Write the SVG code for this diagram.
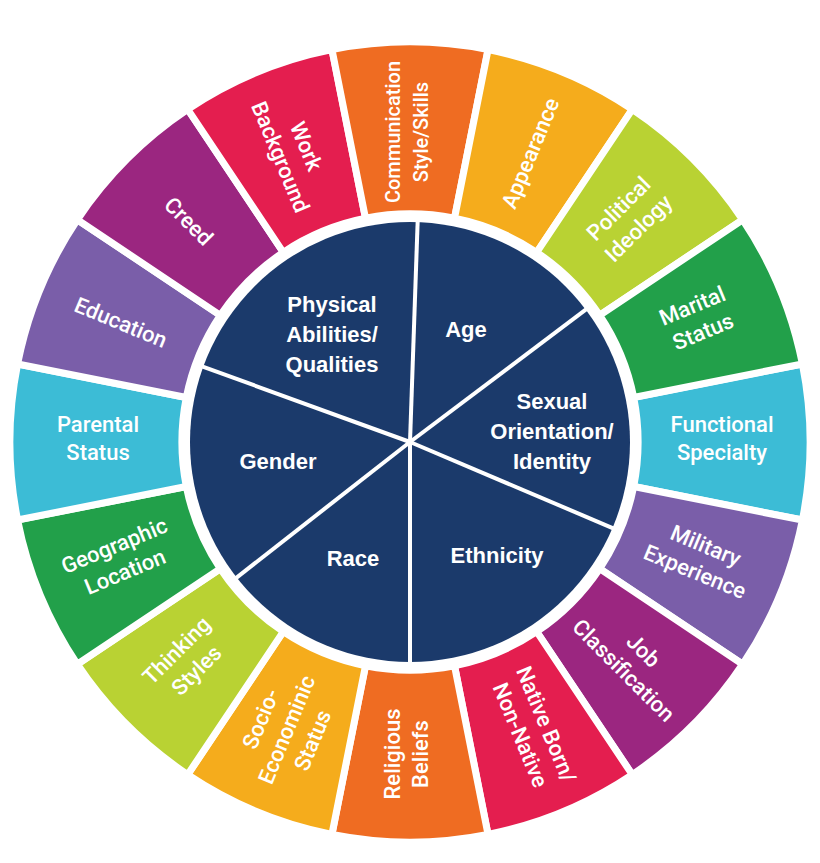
<svg xmlns="http://www.w3.org/2000/svg" xmlns:xlink="http://www.w3.org/1999/xlink" width="820" height="863" viewBox="0 0 820 863">
<style>
.seg{stroke:#fff;stroke-width:7;stroke-linejoin:miter}
.ot{font-family:Roboto,"Liberation Sans",sans-serif;font-size:22px;font-weight:500;fill:#fff;text-anchor:middle}
.it{font-family:"Liberation Sans",Arial,sans-serif;font-size:22px;font-weight:bold;fill:#fff;text-anchor:middle}
.div{stroke:#fff;stroke-width:4}
</style>
<defs>
<path id="s" d="M633.7,397.5 L802.4,364 A400,400 0 0 1 802.4,520 L633.7,486.5 A228,228 0 0 0 633.7,397.5 Z"/>
</defs>
<rect width="820" height="863" fill="#fff"/>
<g id="ring">
<use xlink:href="#s" class="seg" fill="#3cbcd6" transform="rotate(0 410 442)"/>
<use xlink:href="#s" class="seg" fill="#7a5ea9" transform="rotate(22.5 410 442)"/>
<use xlink:href="#s" class="seg" fill="#9b2680" transform="rotate(45 410 442)"/>
<use xlink:href="#s" class="seg" fill="#e41e4f" transform="rotate(67.5 410 442)"/>
<use xlink:href="#s" class="seg" fill="#ef6c22" transform="rotate(90 410 442)"/>
<use xlink:href="#s" class="seg" fill="#f5ac1c" transform="rotate(112.5 410 442)"/>
<use xlink:href="#s" class="seg" fill="#b9d233" transform="rotate(135 410 442)"/>
<use xlink:href="#s" class="seg" fill="#22a04a" transform="rotate(157.5 410 442)"/>
<use xlink:href="#s" class="seg" fill="#3cbcd6" transform="rotate(180 410 442)"/>
<use xlink:href="#s" class="seg" fill="#7a5ea9" transform="rotate(202.5 410 442)"/>
<use xlink:href="#s" class="seg" fill="#9b2680" transform="rotate(225 410 442)"/>
<use xlink:href="#s" class="seg" fill="#e41e4f" transform="rotate(247.5 410 442)"/>
<use xlink:href="#s" class="seg" fill="#ef6c22" transform="rotate(270 410 442)"/>
<use xlink:href="#s" class="seg" fill="#f5ac1c" transform="rotate(292.5 410 442)"/>
<use xlink:href="#s" class="seg" fill="#b9d233" transform="rotate(315 410 442)"/>
<use xlink:href="#s" class="seg" fill="#22a04a" transform="rotate(337.5 410 442)"/>
</g>
<g id="ring-labels" class="ot">
<text transform="translate(722,442) rotate(0)"><tspan x="0" y="-10">Functional</tspan><tspan x="0" y="18">Specialty</tspan></text>
<text transform="translate(699,562) rotate(22.5)"><tspan x="0" y="-10">Military</tspan><tspan x="0" y="18">Experience</tspan></text>
<text transform="translate(631,663) rotate(45)"><tspan x="0" y="-10">Job</tspan><tspan x="0" y="18">Classification</tspan></text>
<text transform="translate(530,731) rotate(67.5)"><tspan x="0" y="-10">Native Born/</tspan><tspan x="0" y="18">Non-Native</tspan></text>
<text transform="translate(410,754) rotate(-90)"><tspan x="0" y="-10">Religious</tspan><tspan x="0" y="18">Beliefs</tspan></text>
<text transform="translate(290,731) rotate(-67.5)"><tspan x="0" y="-24">Socio-</tspan><tspan x="0" y="4">Econominic</tspan><tspan x="0" y="32">Status</tspan></text>
<text transform="translate(189,663) rotate(-45)"><tspan x="0" y="-10">Thinking</tspan><tspan x="0" y="18">Styles</tspan></text>
<text transform="translate(121,562) rotate(-22.5)"><tspan x="0" y="-10">Geographic</tspan><tspan x="0" y="18">Location</tspan></text>
<text transform="translate(98,442) rotate(0)"><tspan x="0" y="-10">Parental</tspan><tspan x="0" y="18">Status</tspan></text>
<text transform="translate(121,322) rotate(22.5)"><tspan x="0" y="8">Education</tspan></text>
<text transform="translate(189,221) rotate(45)"><tspan x="0" y="8">Creed</tspan></text>
<text transform="translate(290,153) rotate(67.5)"><tspan x="0" y="-10">Work</tspan><tspan x="0" y="18">Background</tspan></text>
<text transform="translate(410,132) rotate(-90)" style="font-size:20px"><tspan x="0" y="-10">Communication</tspan><tspan x="0" y="18">Style/Skills</tspan></text>
<text transform="translate(530,153) rotate(-67.5)"><tspan x="0" y="8">Appearance</tspan></text>
<text transform="translate(631,221) rotate(-45)"><tspan x="0" y="-10">Political</tspan><tspan x="0" y="18">Ideology</tspan></text>
<text transform="translate(699,322) rotate(-22.5)"><tspan x="0" y="-10">Marital</tspan><tspan x="0" y="18">Status</tspan></text>
</g>
<g id="core">
<circle cx="410" cy="442" r="220" fill="#1b3a6b"/>
</g>
<g id="connectors" class="div">
<line x1="410" y1="442" x2="417.7" y2="220.3"/>
<line x1="410" y1="442" x2="587.4" y2="308.4"/>
<line x1="410" y1="442" x2="614.4" y2="528.8"/>
<line x1="410" y1="442" x2="410" y2="664"/>
<line x1="410" y1="442" x2="235" y2="578.8"/>
<line x1="410" y1="442" x2="201.3" y2="366.1"/>
</g>
<g id="core-labels" class="it">
<text x="332" y="312">Physical<tspan x="332" dy="30">Abilities/</tspan><tspan x="332" dy="30">Qualities</tspan></text>
<text x="466" y="337">Age</text>
<text x="552" y="409">Sexual<tspan x="552" dy="30">Orientation/</tspan><tspan x="552" dy="30">Identity</tspan></text>
<text x="497" y="563">Ethnicity</text>
<text x="353" y="566">Race</text>
<text x="278" y="469">Gender</text>
</g>
</svg>
